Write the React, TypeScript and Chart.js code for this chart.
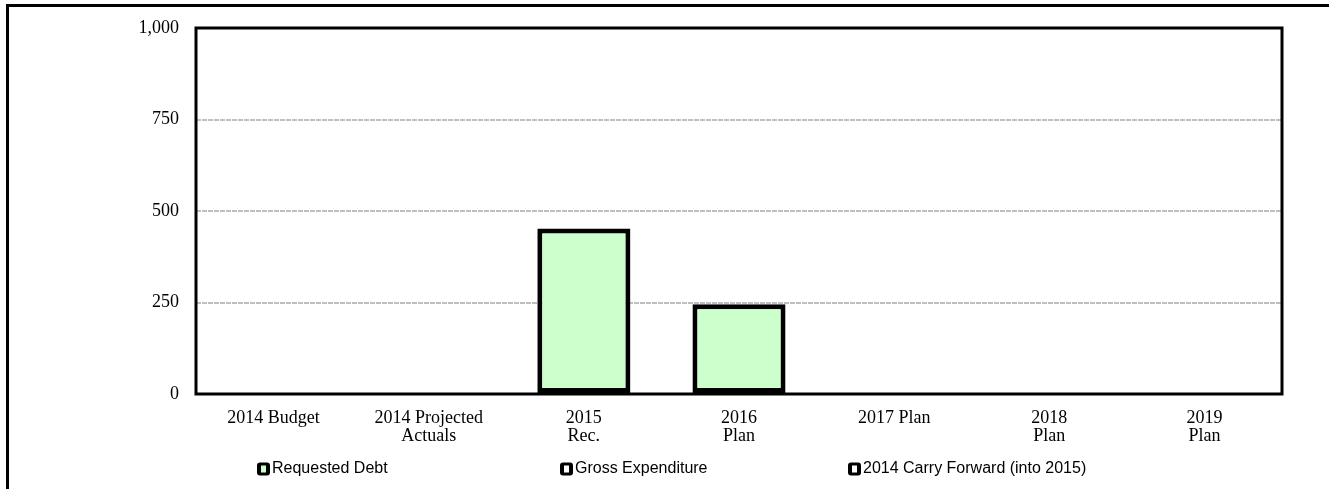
import React, { useEffect, useRef } from "react";
import { Chart, registerables } from "chart.js";

Chart.register(...registerables);

const categories: string[][] = [
  ["2014 Budget"],
  ["2014 Projected", "Actuals"],
  ["2015", "Rec."],
  ["2016", "Plan"],
  ["2017 Plan"],
  ["2018", "Plan"],
  ["2019", "Plan"],
];
const seriesNames = ["Requested Debt", "Gross Expenditure", "2014 Carry Forward (into 2015)"];
const requestedDebt = [0, 0, 452, 245, 0, 0, 0];
const grossExpenditure = [0, 0, 0, 0, 0, 0, 0];
const carryForward = [0, 0, 0, 0, 0, 0, 0];
const yMin = 0;
const yMax = 1000;
const yStep = 250;

const seriesFill = ["#ccffcc", "#ffffff", "#ffffff"];
const legendX = [257, 560, 848];
const legendY = 469;

export default function App() {
  const ref = useRef<HTMLCanvasElement | null>(null);

  useEffect(() => {
    if (!ref.current) return;
    const framePlugin = {
      id: "frameAndLegend",
      afterDatasetsDraw(chart: any) {
        const { ctx, chartArea } = chart;
        ctx.save();
        ctx.strokeStyle = "#000";
        ctx.lineWidth = 3;
        ctx.strokeRect(chartArea.left, chartArea.top, chartArea.right - chartArea.left, chartArea.bottom - chartArea.top);
        ctx.restore();
      },
      afterDraw(chart: any) {
        const { ctx } = chart;
        ctx.save();
        ctx.font = "16px 'Liberation Sans', Arial, sans-serif";
        ctx.textBaseline = "middle";
        ctx.textAlign = "left";
        seriesNames.forEach((name, i) => {
          const x = legendX[i];
          const s = 13;
          ctx.fillStyle = "#000";
          ctx.beginPath();
          if ((ctx as any).roundRect) (ctx as any).roundRect(x, legendY - s / 2, s, s, 3);
          else ctx.rect(x, legendY - s / 2, s, s);
          ctx.fill();
          ctx.fillStyle = seriesFill[i];
          ctx.fillRect(x + 4, legendY - 3.5, 5, 7);
          ctx.fillStyle = "#000";
          ctx.fillText(name, x + 15, legendY);
        });
        ctx.restore();
      },
    };

    const mk = (label: string, data: number[], color: string) => ({
      label,
      data,
      backgroundColor: color,
      borderColor: "#000",
      borderWidth: (c: any) => (c.raw ? 5 : 0),
      borderSkipped: false,
      barPercentage: 0.6,
      categoryPercentage: 1,
    });

    const chart = new Chart(ref.current, {
      type: "bar",
      data: {
        labels: categories,
        datasets: [
          mk(seriesNames[0], requestedDebt, seriesFill[0]),
          mk(seriesNames[1], grossExpenditure, seriesFill[1]),
          mk(seriesNames[2], carryForward, seriesFill[2]),
        ],
      },
      options: {
        animation: false,
        responsive: false,
        maintainAspectRatio: false,
        layout: { padding: { left: 0, top: 28, right: 47, bottom: 0 } },
        plugins: {
          legend: { display: false },
          tooltip: { enabled: false },
        },
        scales: {
          x: {
            stacked: true,
            grid: { display: false, drawTicks: false },
            border: { display: false },
            ticks: {
              color: "#000",
              font: { family: "'Liberation Serif', 'Times New Roman', serif", size: 18, lineHeight: 1.0 },
              padding: 15,
              maxRotation: 0,
              minRotation: 0,
              autoSkip: false,
            },
            afterFit: (s: any) => {
              s.height = 95;
            },
          },
          y: {
            stacked: true,
            min: yMin,
            max: yMax,
            grid: { color: "#c0c0c0", lineWidth: 2, drawTicks: false },
            border: { display: false, dash: [5, 1] },
            ticks: {
              stepSize: yStep,
              color: "#000",
              padding: 17,
              font: { family: "'Liberation Serif', 'Times New Roman', serif", size: 18 },
              callback: (v: any) => Number(v).toLocaleString("en-US"),
            },
            afterFit: (s: any) => {
              s.width = 196;
            },
          },
        },
      },
      plugins: [framePlugin],
    });
    return () => chart.destroy();
  }, []);

  return (
    <div style={{ position: "fixed", left: 0, top: 0, width: 1329, height: 489, overflow: "hidden", background: "#fff" }}>
      <div
        style={{
          position: "absolute",
          left: 6,
          top: 4,
          width: 1400,
          height: 600,
          border: "3px solid #000",
        }}
      />
      <canvas ref={ref} width={1329} height={489} style={{ position: "absolute", left: 0, top: 0, width: 1329, height: 489 }} />
    </div>
  );
}
